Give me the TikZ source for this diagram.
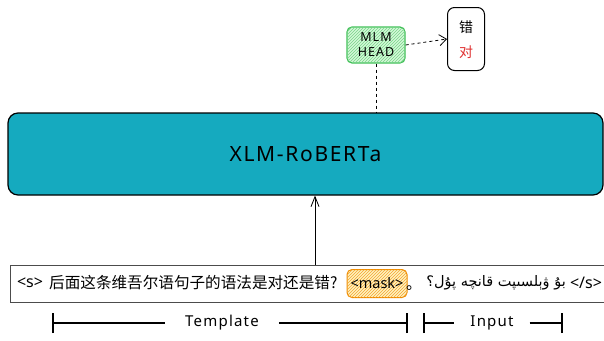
\documentclass[tikz,border=0pt]{standalone}
\usepackage{fontspec}
\setmainfont{Noto Sans}
\newfontfamily\cjk{Noto Sans CJK SC}
\newfontfamily\arabicfont[Script=Arabic]{DejaVu Sans}
\newfontfamily\handfont[LetterSpace=8]{Noto Sans}
\TeXXeTstate=1
\usetikzlibrary{arrows.meta,patterns}
\definecolor{xlmteal}{HTML}{15AABF}
\definecolor{headgreen}{HTML}{40C057}
\definecolor{headfill}{HTML}{D3F9D8}
\definecolor{maskorange}{HTML}{F08C00}
\definecolor{maskfill}{HTML}{FFF3BF}
\definecolor{wrongred}{HTML}{E03131}
\tikzset{
  headbox/.style={draw=headgreen, line width=1.2pt, rounded corners=5pt,
    minimum width=58pt, minimum height=36pt, fill=headfill, align=center,
    postaction={pattern=north east lines, pattern color=headgreen!70},
    font=\handfont\fontsize{12.5}{15}\selectfont, inner sep=0pt},
  outbox/.style={draw=black, line width=1pt, rounded corners=7pt,
    minimum width=37pt, minimum height=63pt, fill=white},
  outtext/.style={font=\cjk\fontsize{14}{16}\selectfont, inner sep=0pt},
  xlmbox/.style={draw=black, line width=1.2pt, rounded corners=10pt,
    minimum width=595pt, minimum height=82pt, fill=xlmteal,
    font=\handfont\fontsize{21}{24}\selectfont},
  sentbox/.style={draw=black!70, line width=0.9pt,
    minimum width=596pt, minimum height=37pt, fill=white},
  masknode/.style={draw=maskorange, line width=1pt, rounded corners=5pt,
    minimum width=60pt, minimum height=28pt, fill=maskfill,
    postaction={pattern=north east lines, pattern color=maskorange!80},
    font=\fontsize{14.5}{16}\selectfont, inner sep=0pt},
  senttext/.style={inner sep=0pt, font=\fontsize{16}{18}\selectfont},
  cjktext/.style={inner sep=0pt, font=\cjk\fontsize{15.6}{18}\selectfont},
  dasharrow/.style={dashed, line width=0.8pt, -{Straight Barb[length=7pt,width=11pt]}},
  solidarrow/.style={line width=0.8pt, -{Straight Barb[length=10pt,width=8pt]}},
  brline/.style={line width=2pt},
  brbar/.style={line width=2.8pt},
  brlabel/.style={font=\handfont\fontsize{15}{17}\selectfont, inner ysep=0pt}
}
\begin{document}
\begin{tikzpicture}[x=1pt, y=-1pt]
\useasboundingbox (0,0) rectangle (604,340);
% top part
\node[headbox] (head) at (376,45) {MLM\\HEAD};
\node[outbox] (out) at (466,39) {};
\node[outtext] (cuo) at (466,27) {错};
\node[outtext, text=wrongred] (dui) at (466,52) {对};
\draw[dasharrow] (head.east) -- (out.west);
% model
\node[xlmbox] (xlm) at (305.5,154) {XLM-RoBERTa};
\draw[dashed, line width=0.8pt] (head.south) -- (head.south |- xlm.north);
% sentence
\node[sentbox] (sent) at (308,283.5) {};
\coordinate (arrfoot) at (315,265);
\draw[solidarrow] (arrfoot) -- (arrfoot |- xlm.south);
\node[senttext] (bos) at (30,283) {<s>};
\node[cjktext, anchor=west] (zh) at (49,283) {后面这条维吾尔语句子的语法是对还是错?};
\node[masknode] (mask) at (377,283.5) {<mask>};
\node[cjktext, anchor=west] (stop) at (406,288) {。};
\node[inner sep=0pt, anchor=east, font=\arabicfont\fontsize{14.5}{17}\selectfont] (ar) at (566,283) {\beginR بۇ ۋېلسىپت قانچە پۇل؟\endR};
\node[senttext] (eos) at (586,283) {</s>};
% brackets
\node[brlabel, inner xsep=20pt] (tpl) at (222,323) {Template};
\coordinate (tl) at (53,323);
\coordinate (tr) at (407,323);
\draw[brline] (tl) -- (tpl.west);
\draw[brline] (tpl.east) -- (tr);
\draw[brbar] ([yshift=-10pt]tl) -- ([yshift=10pt]tl);
\draw[brbar] ([yshift=-10pt]tr) -- ([yshift=10pt]tr);
\node[brlabel, inner xsep=16pt] (inp) at (492,323) {Input};
\coordinate (il) at (424,323);
\coordinate (ir) at (562,323);
\draw[brline] (il) -- (inp.west);
\draw[brline] (inp.east) -- (ir);
\draw[brbar] ([yshift=-10pt]il) -- ([yshift=10pt]il);
\draw[brbar] ([yshift=-10pt]ir) -- ([yshift=10pt]ir);
\end{tikzpicture}
\end{document}
